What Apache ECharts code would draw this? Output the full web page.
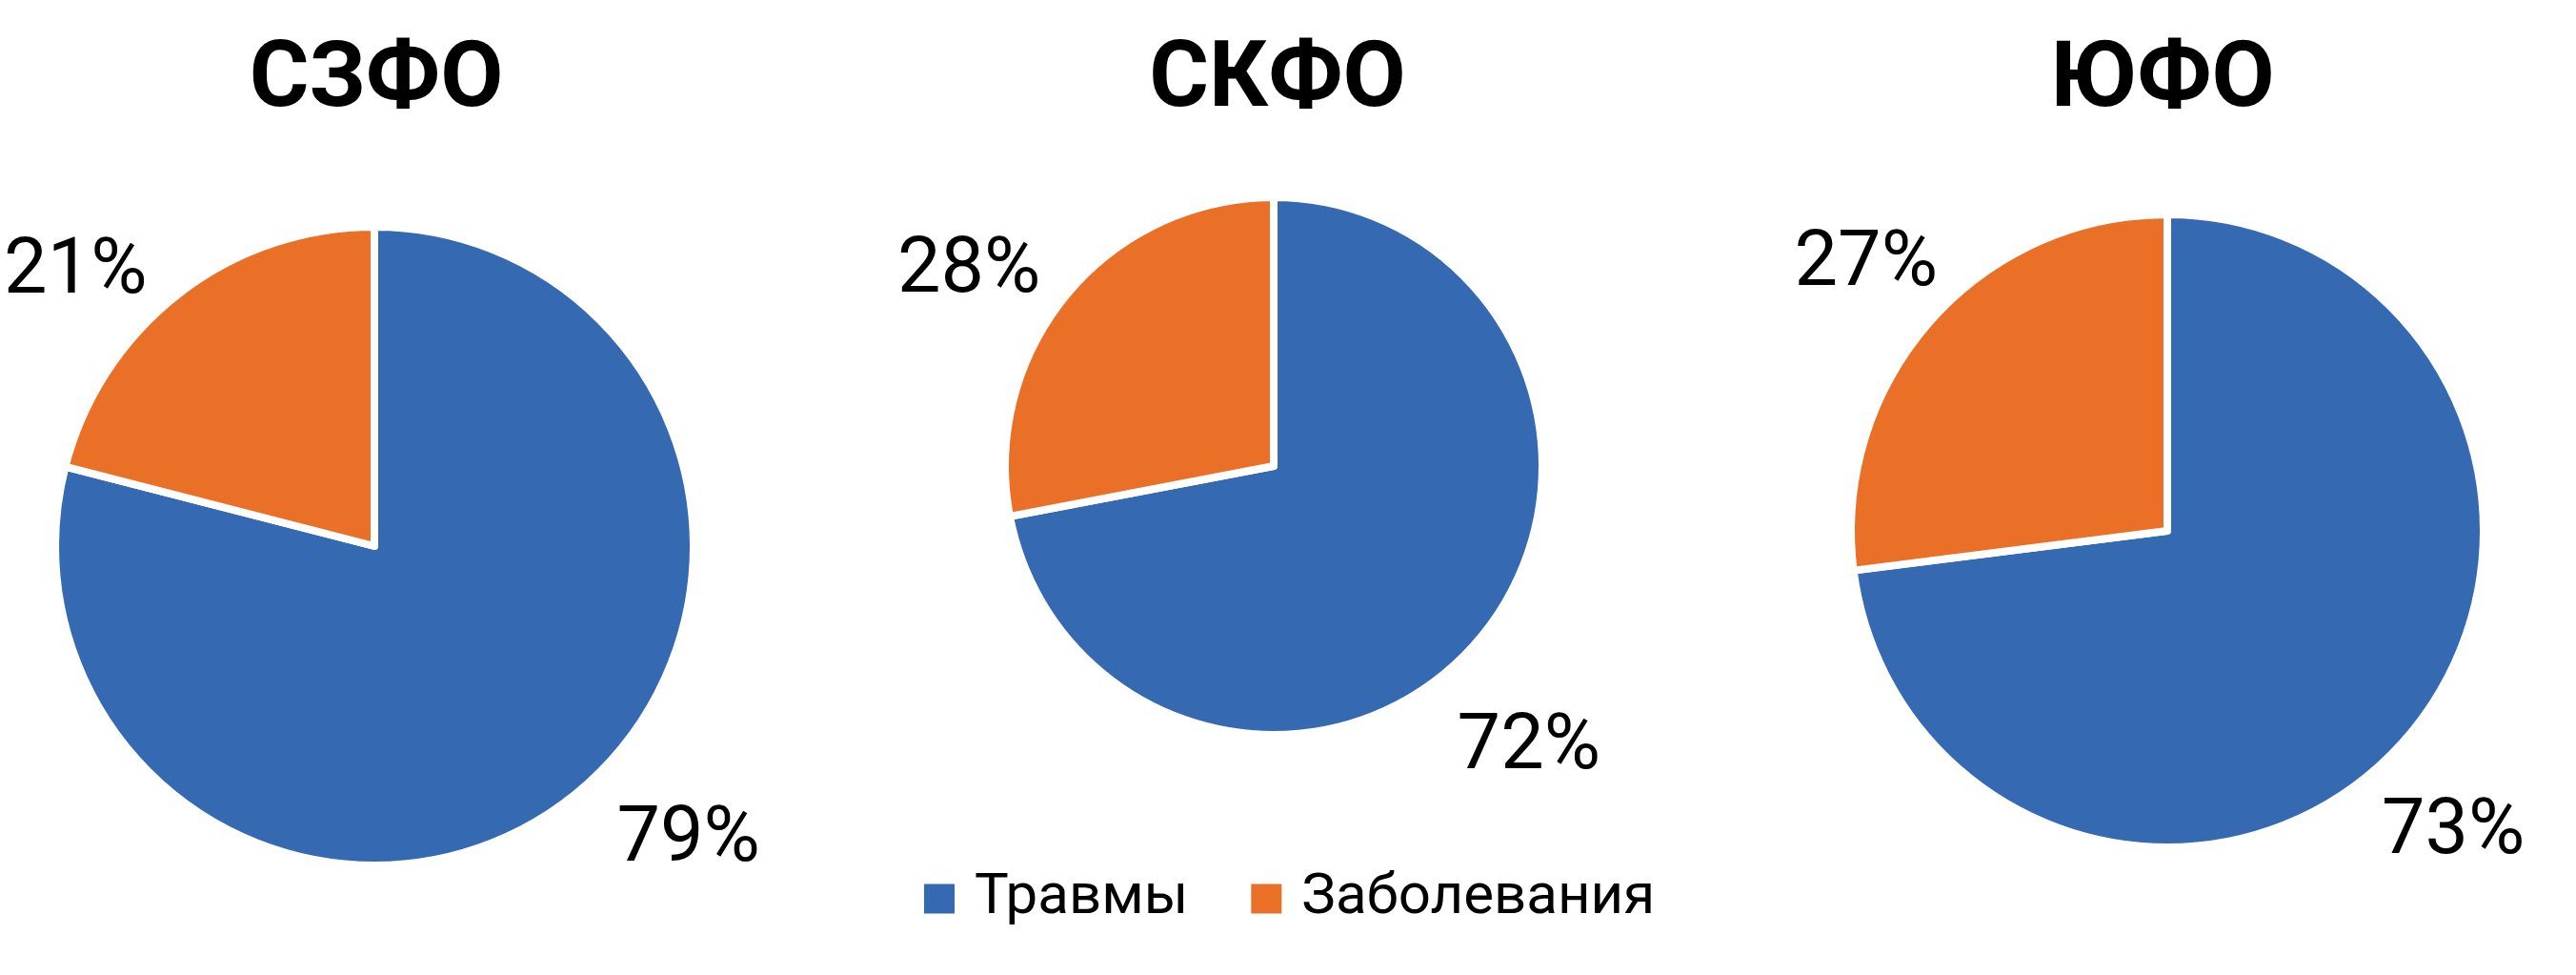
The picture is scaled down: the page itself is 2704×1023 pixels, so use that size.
<!DOCTYPE html>
<html>
<head>
<meta charset="utf-8">
<script src="https://cdn.jsdelivr.net/npm/echarts@6/dist/echarts.min.js"></script>
<style>
  html, body { margin: 0; padding: 0; background: #ffffff; }
  #chart { width: 2704px; height: 1023px; }
</style>
</head>
<body>
<div id="chart"></div>
<script>
// ---- data ----
const regions = ['СЗФО', 'СКФО', 'ЮФО'];
const categories = ['Травмы', 'Заболевания'];
const injuries = [79, 72, 73];
const diseases = [21, 28, 27];

// ---- layout / style (not data) ----
const colors = ['#3569B2', '#EA7028'];
const pieCenters = [[393, 573], [1337, 489], [2275, 557]];
const pieRadii = [335, 282, 332];
const labelRadii = [350, 298, 348];
const titleX = [390, 1336, 2265];
const labelShifts = [
  [[40, 33], [-24, -10]],
  [[-37, 107], [-15, -13]],
  [[-36, 88], [20, -48]]
];

const chart = echarts.init(document.getElementById('chart'), null, { renderer: 'canvas' });

const series = regions.map(function (reg, i) {
  return {
    name: reg,
    type: 'pie',
    center: pieCenters[i],
    radius: pieRadii[i],
    startAngle: 90,
    clockwise: true,
    avoidLabelOverlap: false,
    animation: false,
    itemStyle: { borderColor: '#ffffff', borderWidth: 8 },
    label: {
      show: true,
      position: 'outside',
      formatter: function (p) { return p.value + '%'; },
      fontFamily: 'Roboto',
      fontSize: 81,
      color: '#000000',
      width: 260,
      overflow: 'none',
      distanceToLabelLine: 0
    },
    labelLine: { show: false, length: labelRadii[i] - pieRadii[i], length2: 0 },
    labelLayout: function (params) {
      const s = labelShifts[i][params.dataIndex];
      return { dx: s[0], dy: s[1] };
    },
    emphasis: { disabled: true },
    data: [
      { name: categories[0], value: injuries[i] },
      { name: categories[1], value: diseases[i] }
    ]
  };
});

const titles = regions.map(function (reg, i) {
  return {
    text: reg,
    left: titleX[i],
    top: 34,
    textAlign: 'center',
    textStyle: {
      fontFamily: 'Roboto',
      fontWeight: 'bold',
      fontSize: 96,
      color: '#000000'
    }
  };
});

chart.setOption({
  backgroundColor: '#ffffff',
  color: colors,
  animation: false,
  title: titles,
  legend: {
    data: categories,
    left: 963,
    top: 908,
    icon: 'rect',
    itemWidth: 34,
    itemHeight: 33,
    itemGap: 64,
    selectedMode: false,
    textStyle: {
      fontFamily: 'Roboto',
      fontSize: 60,
      color: '#000000',
      padding: [0, 0, 0, 15]
    }
  },
  series: series
});
</script>
</body>
</html>
